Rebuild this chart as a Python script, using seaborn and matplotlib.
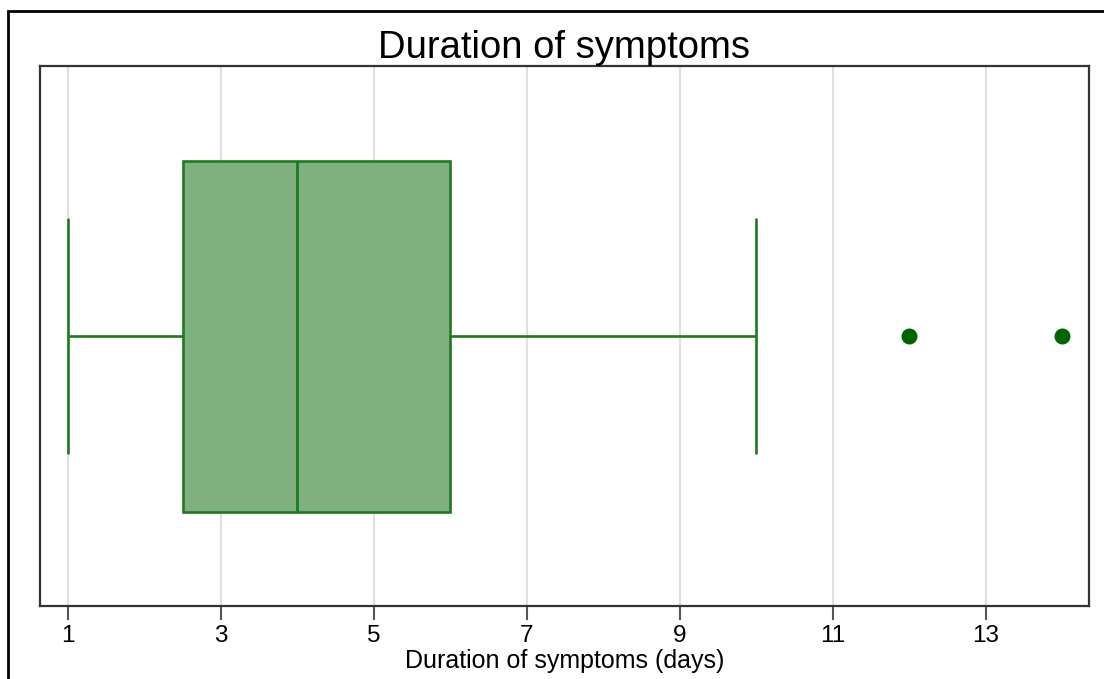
import numpy as np
import pandas as pd
import matplotlib
matplotlib.use("Agg")
import matplotlib.pyplot as plt
import seaborn as sns
from matplotlib.patches import Rectangle

# symptom duration in days (one value per patient)
durations = [1, 1, 2, 2, 2, 3, 3, 4, 4, 4, 5, 5, 6, 6, 6, 7, 10, 12, 14]
x_ticks = [1, 3, 5, 7, 9, 11, 13]

df = pd.DataFrame({"days": durations})

sns.set_style("white")
plt.rcParams['font.family'] = ['Liberation Sans', 'DejaVu Sans']
plt.rcParams['text.color'] = 'black'
plt.rcParams['axes.labelcolor'] = 'black'
plt.rcParams['xtick.color'] = 'black'

fig = plt.figure(figsize=(11.04, 6.79), dpi=100)
ax = fig.add_axes([40/1104, 1 - 606/679, (1089-40)/1104, (606-66)/679])

line_col = "#1f7a1f"
ax.set_axisbelow(True)
ax.grid(axis="x", color="#e0e0e0", linewidth=1.5)
ax.grid(axis="y", visible=False)

sns.boxplot(data=df, x="days", orient="h", width=0.65, color="#80b080",
            linecolor=line_col, linewidth=1.9, saturation=1, ax=ax,
            capwidths=0.435,
            flierprops=dict(marker="o", markerfacecolor="#006400",
                            markeredgecolor="#006400", markersize=10.5),
            medianprops=dict(color=line_col, linewidth=2))

ax.set_xlim(0.634, 14.35)
ax.set_ylim(0.5, -0.5)
ax.set_xticks(x_ticks)
ax.set_xticklabels([str(t) for t in x_ticks], fontsize=17.5)
ax.set_yticks([])
ax.tick_params(axis="x", direction="out", length=10, width=1.5,
               color="#555555", labelcolor="black", pad=4, bottom=True)
ax.set_xlabel("Duration of symptoms (days)", fontsize=18, labelpad=1)
ax.set_ylabel("")
ax.set_title("Duration of symptoms", fontsize=27.5, pad=6)

for s in ax.spines.values():
    s.set_color("#333333")
    s.set_linewidth(1.6)

# outer frame around the graph region
fig.add_artist(Rectangle((8/1104, -0.1), 1.2, (679-11)/679 + 0.1,
                         transform=fig.transFigure, fill=False,
                         edgecolor="black", linewidth=2, clip_on=False))

fig.savefig("out.png", dpi=100)
